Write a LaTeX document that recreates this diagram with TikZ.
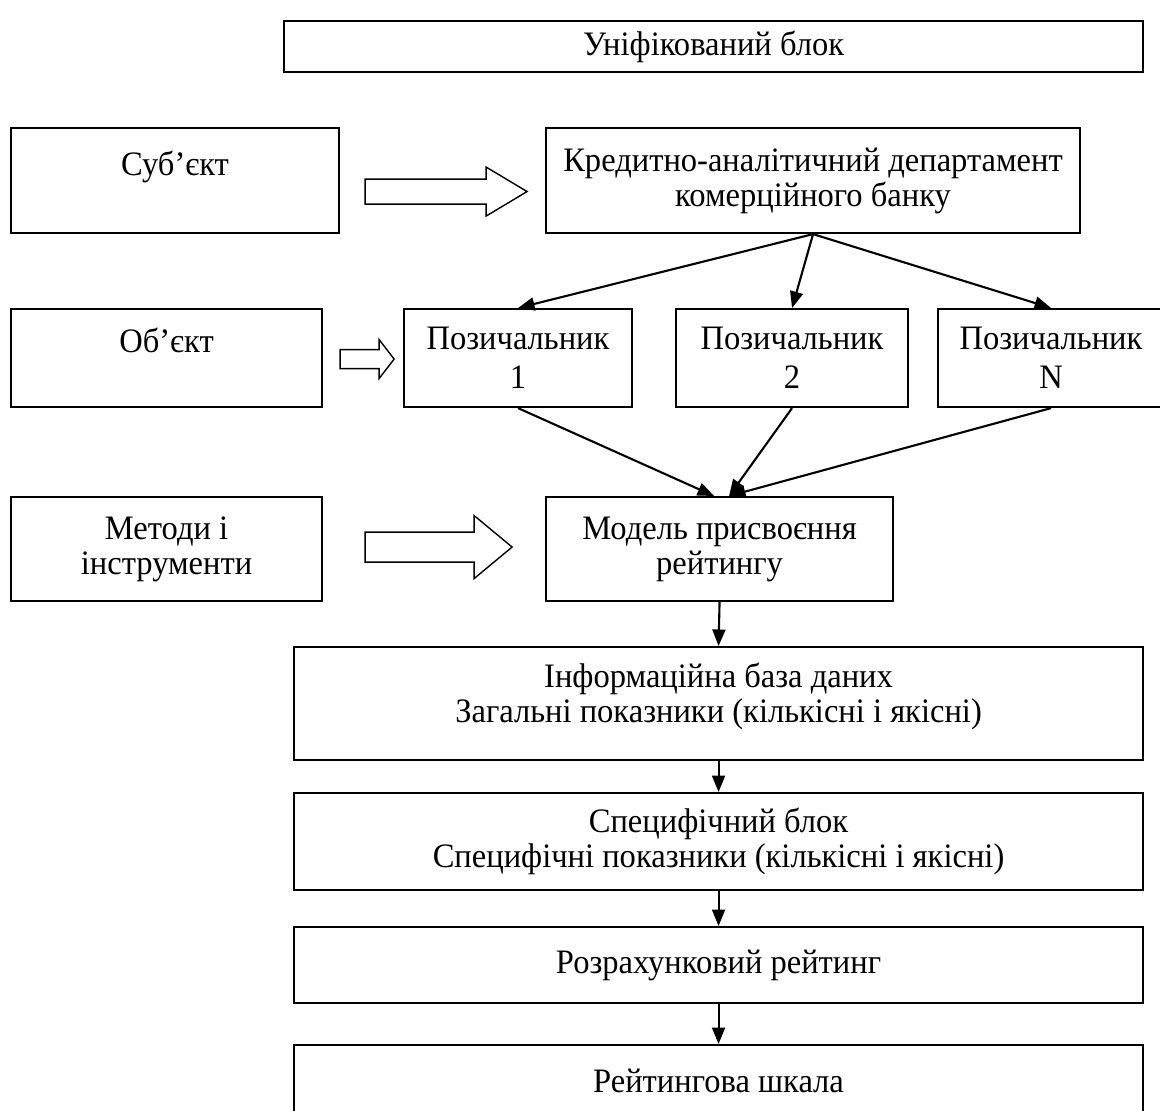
\documentclass[tikz,border=0pt]{standalone}
\usepackage{fontspec}
\setmainfont{Liberation Serif}[FakeStretch=0.95]
\usetikzlibrary{arrows.meta,calc}
\definecolor{ink}{HTML}{000000}
\tikzset{
  >={Triangle[length=3.3mm,width=2.6mm]},
  every picture/.style={line join=miter},
  box/.style={draw=ink, line width=1.2pt, align=center, inner sep=1pt,
    font=\fontsize{19.5}{20}\selectfont, text=ink, anchor=north west},
  arr/.style={->, draw=ink, line width=1.2pt},
  blockarr/.style={draw=ink, fill=white, line width=0.8pt},
}
% hollow block arrow: start, length, shaft half, head half, head length
\newcommand\hollowarrow[5]{\draw[blockarr] #1 ++(0,#3) -- ++({#2-#5},0) -- ++(0,{#4-#3})
  -- ++(#5,-#4) -- ++(-#5,-#4) -- ++(0,{#4-#3}) -- ++({#5-#2},0) -- cycle;}
\begin{document}
\begin{tikzpicture}
  \useasboundingbox (0,0) rectangle (23.2,-22.22);

  % ---------------- top row ----------------
  \node[box, minimum width=17.18cm, minimum height=1.02cm] (uni) at (5.66,-0.40) {Уніфікований блок};
  \node[box, minimum width=6.56cm, minimum height=2.10cm] (subj) at (0.20,-2.54) {Суб’єкт\\ \mbox{}};
  \node[box, minimum width=10.68cm, minimum height=2.10cm] (kred) at (10.90,-2.54)
    {Кредитно-аналітичний департамент\\ комерційного банку};

  % ---------------- borrowers ----------------
  \node[box, minimum width=6.22cm, minimum height=1.96cm] (obj) at (0.20,-6.16) {Об’єкт\\ \mbox{}};
  \node[box, minimum width=4.56cm, minimum height=1.96cm] (p1) at (8.06,-6.16) {Позичальник\\[2pt] 1};
  \node[box, minimum width=4.64cm, minimum height=1.96cm] (p2) at (13.50,-6.16) {Позичальник\\[2pt] 2};
  \node[box, minimum width=4.52cm, minimum height=1.96cm] (pn) at (18.74,-6.16) {Позичальник\\[2pt] N};

  % ---------------- model ----------------
  \node[box, minimum width=6.22cm, minimum height=2.08cm] (meth) at (0.20,-9.92) {Методи і\\ інструменти};
  \node[box, minimum width=6.94cm, minimum height=2.08cm] (model) at (10.90,-9.92) {Модель присвоєння\\ рейтингу};

  % ---------------- chain ----------------
  \node[box, minimum width=16.98cm, minimum height=2.26cm] (info) at (5.86,-12.92)
    {Інформаційна база даних\\ Загальні показники (кількісні і якісні)\\[-8pt] \mbox{}};
  \node[box, minimum width=16.98cm, minimum height=1.94cm] (spec) at (5.86,-15.84)
    {Специфічний блок\\ Специфічні показники (кількісні і якісні)};
  \node[box, minimum width=16.98cm, minimum height=1.52cm] (rozr) at (5.86,-18.52) {Розрахунковий рейтинг};
  \node[box, minimum width=16.98cm, minimum height=1.44cm] (reyt) at (5.86,-20.88) {Рейтингова шкала};

  % block arrows
  \hollowarrow{($(subj.east)+(0.5,-0.22)$)}{3.24}{0.25}{0.49}{0.82}
  \hollowarrow{($(obj.east)+(0.34,-0.02)$)}{1.08}{0.19}{0.39}{0.30}
  \hollowarrow{($(meth.east)+(0.84,0.04)$)}{2.94}{0.30}{0.63}{0.76}

  % connectors
  \draw[arr] (kred.south) -- (p1.north);
  \draw[arr] (kred.south) -- (p2.north);
  \draw[arr] (kred.south) -- (pn.north);
  \draw[arr] (p1.south) -- ([xshift=-0.11cm]model.north);
  \draw[arr] (p2.south) -- ([xshift=0.19cm]model.north);
  \draw[arr] (pn.south) -- ([xshift=0.19cm]model.north);
  \draw[arr] (model.south) -- (info.north);
  \draw[arr] (info) -- (spec);
  \draw[arr] (spec) -- (rozr);
  \draw[arr] (rozr) -- (reyt);
\end{tikzpicture}
\end{document}
